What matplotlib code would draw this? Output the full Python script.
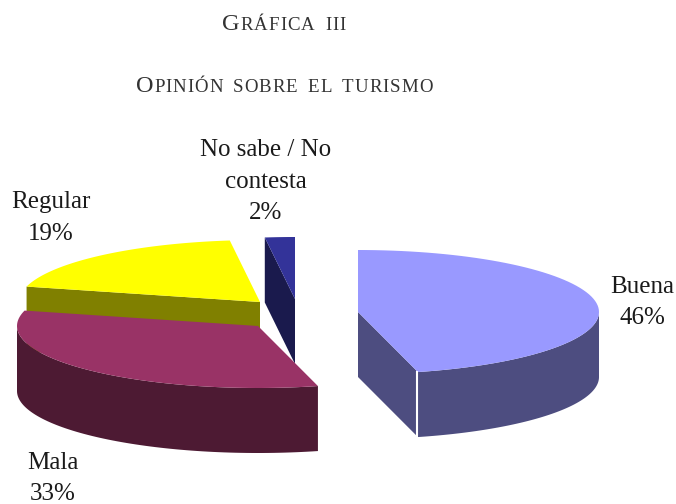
import numpy as np
import matplotlib
matplotlib.use('Agg')
import matplotlib.pyplot as plt

plt.rcParams['font.family'] = ['Liberation Serif', 'DejaVu Serif']

# the data
categories = ['Buena', 'Mala', 'Regular', 'No sabe / No contesta']
percentages = [46, 33, 19, 2]
top_colors = ['#9999FF', '#993366', '#FFFF00', '#333399']
side_colors = ['#4D4D80', '#4D1A33', '#808000', '#1A1A4D']

# where each exploded slice sits, in pixels
centers = [(358, 312), (258, 326), (260, 302), (295, 299)]
rx, ry, depth = 241, 62, 65

# label lines and where they go
label_lines = [['Buena', '46%'], ['Mala', '33%'], ['Regular', '19%'], ['No sabe / No', 'contesta', '2%']]
label_pos = [(642, 287), (53, 463), (51, 202), (266, 150)]
line_gap = 31.5

fig = plt.figure(figsize=(6.76, 5.04), dpi=100)
ax = fig.add_axes([0, 0, 1, 1])
ax.set_xlim(0, 676)
ax.set_ylim(504, 0)
ax.axis('off')


def rim(c, a, b):
    t = np.radians(np.linspace(a, b, 80))
    return c[0] + rx * np.cos(t), c[1] - ry * np.sin(t)


# slice angles, clockwise from 12 o'clock
ends = 90 - np.cumsum(percentages) * 3.6
starts = np.r_[90, ends[:-1]]

# back to front so Mala covers Regular
for i in [3, 2, 1, 0]:
    c = centers[i]
    a, b = starts[i], ends[i]
    x, y = rim(c, a, b)

    # cut faces
    if i == 0:
        # face on the left of Buena
        ax.fill([c[0], x[-1], x[-1], c[0]], [c[1], y[-1], y[-1] + depth, c[1] + depth],
                color=side_colors[i], lw=0)
    if i == 2 or i == 3:
        ax.fill([x[0], c[0], c[0], x[0]], [y[0], c[1], c[1] + depth, y[0] + depth],
                color=side_colors[i], lw=0)

    # outer wall, only the front half of the ellipse shows
    lo, hi = max(min(a, b), -180), min(max(a, b), 0)
    if hi > lo:
        xs, ys = rim(c, lo, hi)
        ax.fill(np.r_[xs, xs[::-1]], np.r_[ys, ys[::-1] + depth], color=side_colors[i], lw=0)

    ax.fill(np.r_[c[0], x], np.r_[c[1], y], color=top_colors[i], lw=0)

# white line on the Buena corner
xb, yb = rim(centers[0], ends[0], ends[0])
ax.plot([xb[0] - 1, xb[0] - 1], [yb[0], yb[0] + depth], color='white', lw=1.5)

for lines, (lx, ly) in zip(label_lines, label_pos):
    for k, s in enumerate(lines):
        ax.text(lx, ly + k * line_gap, s, ha='center', va='center', fontsize=18, color='#1a1a1a')


# small caps titles, built from two sizes
def small_caps(text, xc, base, big=17.5, small=13.6, gap=1.0):
    r = fig.canvas.get_renderer()
    parts = []
    for ch in text:
        size = big if ch.isupper() else small
        t = ax.text(0, base, ch.upper(), fontsize=size, color='#333333', va='baseline', ha='left')
        w = t.get_window_extent(r).width if ch != ' ' else size * 0.6
        parts.append((t, w))
    total = sum(p[1] + gap for p in parts) - gap
    pos = xc - total / 2
    for t, w in parts:
        t.set_x(pos)
        pos += w + gap


small_caps('Gráfica iii', 284, 30)
small_caps('Opinión sobre el turismo', 284, 92)

fig.savefig('out.png', dpi=100)
